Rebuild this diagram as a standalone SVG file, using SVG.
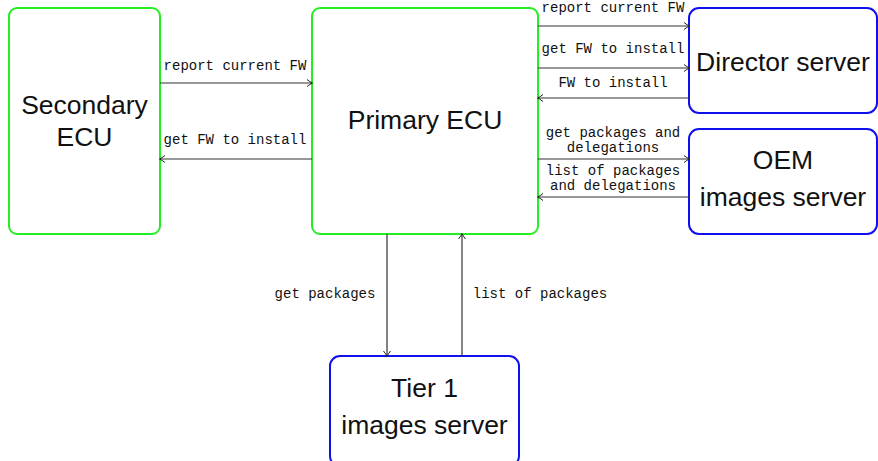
<svg xmlns="http://www.w3.org/2000/svg" width="878" height="461" viewBox="0 0 878 461">
<defs>
<marker id="ah" markerWidth="10" markerHeight="10" refX="7" refY="5" orient="auto" markerUnits="userSpaceOnUse">
<path d="M2,1.5 Q5,4 7.5,5 Q5,6 2,8.5" fill="none" stroke="#222" stroke-width="1"/>
</marker>
<style>
.ecu{fill:#fff;stroke:#22ee22;stroke-width:2}
.srv{fill:#fff;stroke:#1010ee;stroke-width:2}
.nt{font-family:"Liberation Sans","DejaVu Sans",sans-serif;font-size:26.5px;fill:#111;text-anchor:middle}
.lb{font-family:"Liberation Mono","DejaVu Sans Mono",monospace;font-size:14px;fill:#111;text-anchor:middle}
.cn{stroke:#333;stroke-width:1.2;fill:none;marker-end:url(#ah)}
</style>
</defs>
<rect width="878" height="461" fill="#fff"/>
<g id="secondary-ecu">
<rect class="ecu" x="9" y="8" width="151" height="226" rx="8"/>
<text class="nt" x="84.5" y="114">Secondary</text>
<text class="nt" x="84.5" y="146">ECU</text>
</g>
<g id="primary-ecu">
<rect class="ecu" x="312" y="8" width="226" height="226" rx="8"/>
<text class="nt" x="425" y="129">Primary ECU</text>
</g>
<g id="director-server">
<rect class="srv" x="689" y="8" width="188" height="105" rx="10"/>
<text class="nt" x="783" y="71">Director server</text>
</g>
<g id="oem-images-server">
<rect class="srv" x="689" y="129" width="188" height="105" rx="10"/>
<text class="nt" x="783" y="169">OEM</text>
<text class="nt" x="783" y="206">images server</text>
</g>
<g id="tier1-images-server">
<rect class="srv" x="330" y="356" width="189" height="110" rx="10"/>
<text class="nt" x="424.5" y="397">Tier 1</text>
<text class="nt" x="424.5" y="434">images server</text>
</g>
<g id="connectors">
<line class="cn" x1="160" y1="83" x2="312" y2="83"/>
<line class="cn" x1="312" y1="159" x2="160" y2="159"/>
<line class="cn" x1="538" y1="26" x2="689" y2="26"/>
<line class="cn" x1="538" y1="68" x2="689" y2="68"/>
<line class="cn" x1="689" y1="98" x2="538" y2="98"/>
<line class="cn" x1="538" y1="159" x2="689" y2="159"/>
<line class="cn" x1="689" y1="197" x2="538" y2="197"/>
<line class="cn" x1="387" y1="234" x2="387" y2="356"/>
<line class="cn" x1="462" y1="356" x2="462" y2="234"/>
<text class="lb" x="235" y="70">report current FW</text>
<text class="lb" x="235" y="144">get FW to install</text>
<text class="lb" x="613" y="12">report current FW</text>
<text class="lb" x="613" y="53">get FW to install</text>
<text class="lb" x="613" y="87">FW to install</text>
<text class="lb" x="613" y="137">get packages and</text>
<text class="lb" x="613" y="152">delegations</text>
<text class="lb" x="613" y="175">list of packages</text>
<text class="lb" x="613" y="190">and delegations</text>
<text class="lb" x="325" y="298">get packages</text>
<text class="lb" x="540" y="298">list of packages</text>
</g>
</svg>
